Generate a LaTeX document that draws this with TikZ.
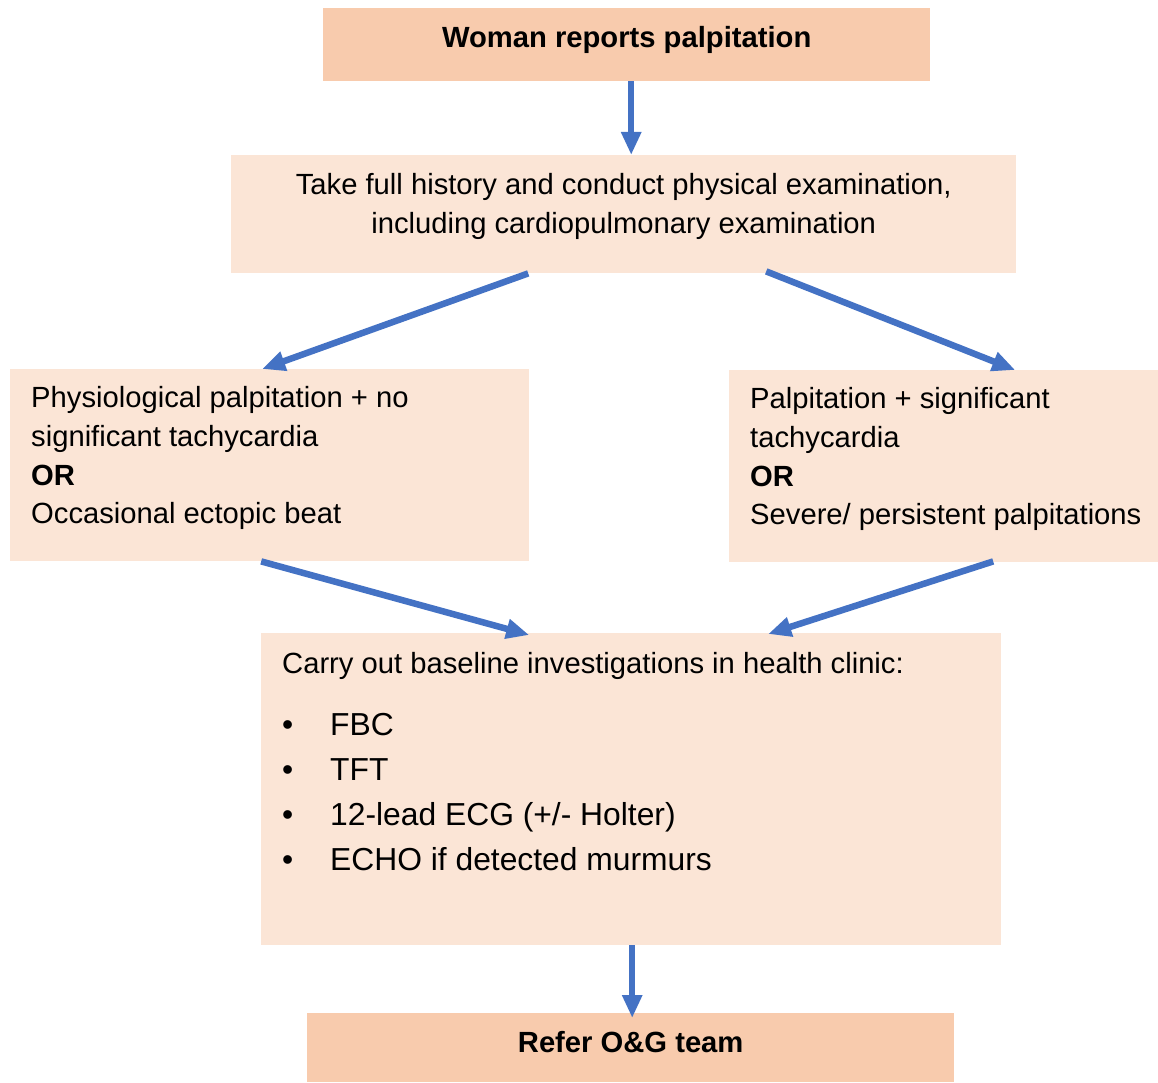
\documentclass[tikz,border=0pt]{standalone}
\usepackage{fontspec}
\setmainfont{Liberation Sans}
\usetikzlibrary{arrows.meta}
\definecolor{pp}{RGB}{248, 203, 173}
\definecolor{lp}{RGB}{251, 229, 214}
\definecolor{bb}{RGB}{68, 114, 196}
\newcommand{\boxtext}[3]{\parbox[c][#2][t]{#1}{\fontsize{29.2pt}{38.7pt}\selectfont #3}}
\newcommand{\bul}{\makebox[48pt][l]{\textbullet}}

\begin{document}
\begin{tikzpicture}[
  pbox/.style={anchor=north west, inner sep=0pt},
  conn/.style={line width=6.5pt, color=bb, -{Triangle[length=23pt, width=19pt]}}]
\useasboundingbox (0pt, 0pt) rectangle (1158pt, -1083pt);
\node (top) [pbox, fill=pp] at (323pt, -8pt) {\boxtext{607pt}{73pt}{\centering\bfseries\rule{0pt}{39.5pt}Woman reports palpitation}};
\node (hist) [pbox, fill=lp] at (231pt, -155pt) {\boxtext{785pt}{118pt}{\centering\rule{0pt}{39.5pt}Take full history and conduct physical examination,\\ including cardiopulmonary examination}};
\node (phys) [pbox, fill=lp] at (10pt, -369pt) {\boxtext{519pt}{192pt}{\raggedright\leftskip=21pt\rule{0pt}{38.5pt}Physiological palpitation + no\\ significant tachycardia\\ \textbf{OR}\\ Occasional ectopic beat}};
\node (sev) [pbox, fill=lp] at (729pt, -370pt) {\boxtext{429pt}{192pt}{\raggedright\leftskip=21pt\rule{0pt}{38.5pt}Palpitation + significant\\ tachycardia\\ \textbf{OR}\\ Severe/ persistent palpitations}};
\node (inv) [pbox, fill=lp] at (261pt, -633pt) {\boxtext{740pt}{312pt}{\raggedright\leftskip=21pt\rule{0pt}{40.5pt}Carry out baseline investigations in health clinic:\par
  \vspace{17pt}
  {\fontsize{31.8pt}{45pt}\selectfont
  \bul FBC\\
  \bul TFT\\
  \bul 12-lead ECG (+/- Holter)\\
  \bul ECHO if detected murmurs\par}}};
\node (ref) [pbox, fill=pp] at (307pt, -1013pt) {\boxtext{647pt}{69pt}{\centering\bfseries\rule{0pt}{39.5pt}Refer O\&G team}};
% arrows
\draw [conn] ([xshift=4.5pt]top.south) -- ([xshift=7.5pt]hist.north);
\draw [conn] ([xshift=-95.5pt]hist.south) -- ([xshift=-7.5pt]phys.north);
\draw [conn] ([xshift=142.5pt, yshift=2pt]hist.south) -- ([xshift=71.5pt]sev.north);
\draw [conn] ([xshift=-8.5pt]phys.south) -- ([xshift=-102pt, yshift=-2pt]inv.north);
\draw [conn] ([xshift=49.5pt, yshift=1pt]sev.south) -- ([xshift=137pt, yshift=-1pt]inv.north);
\draw [conn] ([xshift=1pt]inv.south) -- ([xshift=1.5pt, yshift=-5pt]ref.north);
\end{tikzpicture}
\end{document}
